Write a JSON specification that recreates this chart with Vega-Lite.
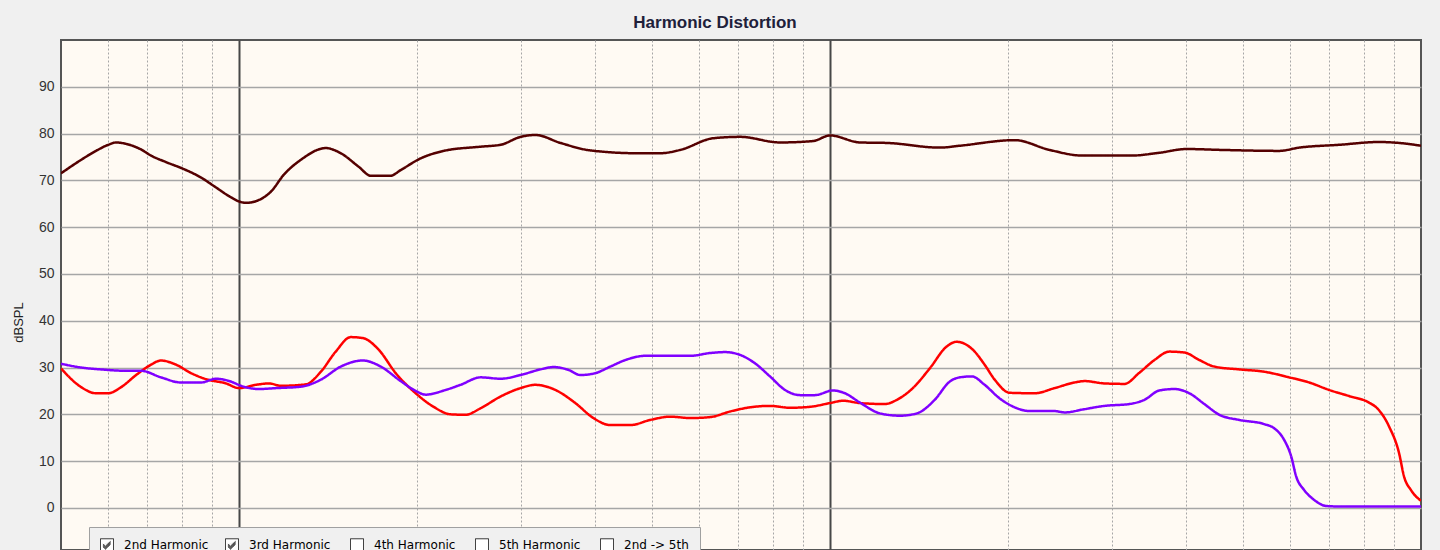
{
  "$schema": "https://vega.github.io/schema/vega-lite/v6.json",
  "width": 1360,
  "height": 510,
  "autosize": {"type": "none"},
  "padding": {"left": 61, "top": 40, "right": 19, "bottom": 0},
  "background": "#f0f0f0",
  "title": {
    "text": "Harmonic Distortion",
    "font": "Liberation Sans",
    "fontSize": 17,
    "fontWeight": "bold",
    "color": "#20203a",
    "anchor": "middle",
    "dx": -26,
    "dy": 17,
    "offset": 12,
    "baseline": "alphabetic"
  },
  "config": {
    "view": {"fill": "#fffaf3", "stroke": "#555555", "strokeWidth": 2}
  },
  "data": {
    "values": [
      {"series": "Fundamental", "freq": 50, "spl": 71.5},
      {"series": "Fundamental", "freq": 54.1, "spl": 74.4},
      {"series": "Fundamental", "freq": 57.3, "spl": 76.3},
      {"series": "Fundamental", "freq": 60.1, "spl": 77.6},
      {"series": "Fundamental", "freq": 62.0, "spl": 78.1},
      {"series": "Fundamental", "freq": 64.4, "spl": 77.8},
      {"series": "Fundamental", "freq": 68.3, "spl": 76.6},
      {"series": "Fundamental", "freq": 71.0, "spl": 75.3},
      {"series": "Fundamental", "freq": 75.3, "spl": 73.9},
      {"series": "Fundamental", "freq": 80.7, "spl": 72.4},
      {"series": "Fundamental", "freq": 86.3, "spl": 70.6},
      {"series": "Fundamental", "freq": 90.7, "spl": 68.8},
      {"series": "Fundamental", "freq": 96.9, "spl": 66.4},
      {"series": "Fundamental", "freq": 100, "spl": 65.5},
      {"series": "Fundamental", "freq": 102.8, "spl": 65.2},
      {"series": "Fundamental", "freq": 108.9, "spl": 66.0},
      {"series": "Fundamental", "freq": 113.3, "spl": 67.6},
      {"series": "Fundamental", "freq": 119.1, "spl": 71.2},
      {"series": "Fundamental", "freq": 127.3, "spl": 74.4},
      {"series": "Fundamental", "freq": 140.3, "spl": 76.9},
      {"series": "Fundamental", "freq": 148.7, "spl": 75.8},
      {"series": "Fundamental", "freq": 159.5, "spl": 72.9},
      {"series": "Fundamental", "freq": 167.1, "spl": 71.0},
      {"series": "Fundamental", "freq": 180.6, "spl": 71.0},
      {"series": "Fundamental", "freq": 187.8, "spl": 72.2},
      {"series": "Fundamental", "freq": 203.0, "spl": 74.7},
      {"series": "Fundamental", "freq": 222.0, "spl": 76.3},
      {"series": "Fundamental", "freq": 256.4, "spl": 77.2},
      {"series": "Fundamental", "freq": 277.1, "spl": 77.6},
      {"series": "Fundamental", "freq": 299.6, "spl": 79.3},
      {"series": "Fundamental", "freq": 317.5, "spl": 79.7},
      {"series": "Fundamental", "freq": 349.9, "spl": 78.0},
      {"series": "Fundamental", "freq": 393.3, "spl": 76.4},
      {"series": "Fundamental", "freq": 472.1, "spl": 75.8},
      {"series": "Fundamental", "freq": 516.3, "spl": 75.8},
      {"series": "Fundamental", "freq": 558.0, "spl": 76.5},
      {"series": "Fundamental", "freq": 634.5, "spl": 79.0},
      {"series": "Fundamental", "freq": 704.7, "spl": 79.3},
      {"series": "Fundamental", "freq": 823.3, "spl": 78.1},
      {"series": "Fundamental", "freq": 936.1, "spl": 78.4},
      {"series": "Fundamental", "freq": 1000, "spl": 79.6},
      {"series": "Fundamental", "freq": 1124, "spl": 78.1},
      {"series": "Fundamental", "freq": 1248, "spl": 78.0},
      {"series": "Fundamental", "freq": 1534, "spl": 77.0},
      {"series": "Fundamental", "freq": 1658, "spl": 77.4},
      {"series": "Fundamental", "freq": 2053, "spl": 78.6},
      {"series": "Fundamental", "freq": 2353, "spl": 76.5},
      {"series": "Fundamental", "freq": 2676, "spl": 75.3},
      {"series": "Fundamental", "freq": 3237, "spl": 75.3},
      {"series": "Fundamental", "freq": 3609, "spl": 75.9},
      {"series": "Fundamental", "freq": 4009, "spl": 76.7},
      {"series": "Fundamental", "freq": 4612, "spl": 76.5},
      {"series": "Fundamental", "freq": 5756, "spl": 76.3},
      {"series": "Fundamental", "freq": 6221, "spl": 77.0},
      {"series": "Fundamental", "freq": 7269, "spl": 77.6},
      {"series": "Fundamental", "freq": 8494, "spl": 78.2},
      {"series": "Fundamental", "freq": 9181, "spl": 78.0},
      {"series": "Fundamental", "freq": 10000, "spl": 77.4},

      {"series": "2nd Harmonic", "freq": 50, "spl": 29.8},
      {"series": "2nd Harmonic", "freq": 54.1, "spl": 25.8},
      {"series": "2nd Harmonic", "freq": 57.3, "spl": 24.5},
      {"series": "2nd Harmonic", "freq": 60.1, "spl": 24.5},
      {"series": "2nd Harmonic", "freq": 63.2, "spl": 25.8},
      {"series": "2nd Harmonic", "freq": 67.0, "spl": 28.4},
      {"series": "2nd Harmonic", "freq": 71.0, "spl": 30.6},
      {"series": "2nd Harmonic", "freq": 73.8, "spl": 31.5},
      {"series": "2nd Harmonic", "freq": 78.3, "spl": 30.6},
      {"series": "2nd Harmonic", "freq": 83.0, "spl": 28.8},
      {"series": "2nd Harmonic", "freq": 88.0, "spl": 27.5},
      {"series": "2nd Harmonic", "freq": 95.1, "spl": 26.6},
      {"series": "2nd Harmonic", "freq": 100, "spl": 25.6},
      {"series": "2nd Harmonic", "freq": 106.8, "spl": 26.3},
      {"series": "2nd Harmonic", "freq": 112.4, "spl": 26.6},
      {"series": "2nd Harmonic", "freq": 117.8, "spl": 26.1},
      {"series": "2nd Harmonic", "freq": 129.8, "spl": 26.4},
      {"series": "2nd Harmonic", "freq": 137.6, "spl": 29.1},
      {"series": "2nd Harmonic", "freq": 145.8, "spl": 33.4},
      {"series": "2nd Harmonic", "freq": 154.6, "spl": 36.5},
      {"series": "2nd Harmonic", "freq": 162.0, "spl": 36.3},
      {"series": "2nd Harmonic", "freq": 172.4, "spl": 33.8},
      {"series": "2nd Harmonic", "freq": 184.2, "spl": 28.8},
      {"series": "2nd Harmonic", "freq": 199.1, "spl": 24.5},
      {"series": "2nd Harmonic", "freq": 213.5, "spl": 21.6},
      {"series": "2nd Harmonic", "freq": 228.1, "spl": 20.0},
      {"series": "2nd Harmonic", "freq": 241.8, "spl": 19.9},
      {"series": "2nd Harmonic", "freq": 256.4, "spl": 21.3},
      {"series": "2nd Harmonic", "freq": 277.1, "spl": 23.8},
      {"series": "2nd Harmonic", "freq": 299.6, "spl": 25.6},
      {"series": "2nd Harmonic", "freq": 317.5, "spl": 26.3},
      {"series": "2nd Harmonic", "freq": 343.2, "spl": 25.2},
      {"series": "2nd Harmonic", "freq": 370.9, "spl": 22.4},
      {"series": "2nd Harmonic", "freq": 397.9, "spl": 19.2},
      {"series": "2nd Harmonic", "freq": 425.0, "spl": 17.7},
      {"series": "2nd Harmonic", "freq": 459.5, "spl": 17.7},
      {"series": "2nd Harmonic", "freq": 496.6, "spl": 18.8},
      {"series": "2nd Harmonic", "freq": 536.7, "spl": 19.5},
      {"series": "2nd Harmonic", "freq": 580.2, "spl": 19.2},
      {"series": "2nd Harmonic", "freq": 627.0, "spl": 19.4},
      {"series": "2nd Harmonic", "freq": 677.7, "spl": 20.6},
      {"series": "2nd Harmonic", "freq": 732.4, "spl": 21.5},
      {"series": "2nd Harmonic", "freq": 791.6, "spl": 21.8},
      {"series": "2nd Harmonic", "freq": 855.6, "spl": 21.4},
      {"series": "2nd Harmonic", "freq": 924.7, "spl": 21.6},
      {"series": "2nd Harmonic", "freq": 1000, "spl": 22.4},
      {"series": "2nd Harmonic", "freq": 1052, "spl": 22.9},
      {"series": "2nd Harmonic", "freq": 1124, "spl": 22.4},
      {"series": "2nd Harmonic", "freq": 1239, "spl": 22.2},
      {"series": "2nd Harmonic", "freq": 1298, "spl": 23.1},
      {"series": "2nd Harmonic", "freq": 1381, "spl": 25.6},
      {"series": "2nd Harmonic", "freq": 1475, "spl": 29.8},
      {"series": "2nd Harmonic", "freq": 1576, "spl": 34.5},
      {"series": "2nd Harmonic", "freq": 1639, "spl": 35.5},
      {"series": "2nd Harmonic", "freq": 1745, "spl": 33.8},
      {"series": "2nd Harmonic", "freq": 1827, "spl": 30.6},
      {"series": "2nd Harmonic", "freq": 1900, "spl": 27.4},
      {"series": "2nd Harmonic", "freq": 2014, "spl": 24.6},
      {"series": "2nd Harmonic", "freq": 2220, "spl": 24.5},
      {"series": "2nd Harmonic", "freq": 2399, "spl": 25.6},
      {"series": "2nd Harmonic", "freq": 2593, "spl": 26.8},
      {"series": "2nd Harmonic", "freq": 2696, "spl": 27.1},
      {"series": "2nd Harmonic", "freq": 2914, "spl": 26.6},
      {"series": "2nd Harmonic", "freq": 3150, "spl": 26.5},
      {"series": "2nd Harmonic", "freq": 3339, "spl": 28.9},
      {"series": "2nd Harmonic", "freq": 3540, "spl": 31.6},
      {"series": "2nd Harmonic", "freq": 3752, "spl": 33.4},
      {"series": "2nd Harmonic", "freq": 3979, "spl": 33.2},
      {"series": "2nd Harmonic", "freq": 4217, "spl": 31.6},
      {"series": "2nd Harmonic", "freq": 4470, "spl": 30.2},
      {"series": "2nd Harmonic", "freq": 4926, "spl": 29.6},
      {"series": "2nd Harmonic", "freq": 5431, "spl": 29.1},
      {"series": "2nd Harmonic", "freq": 5984, "spl": 27.9},
      {"series": "2nd Harmonic", "freq": 6470, "spl": 26.8},
      {"series": "2nd Harmonic", "freq": 6993, "spl": 25.2},
      {"series": "2nd Harmonic", "freq": 7557, "spl": 23.9},
      {"series": "2nd Harmonic", "freq": 8170, "spl": 22.5},
      {"series": "2nd Harmonic", "freq": 8430, "spl": 21.3},
      {"series": "2nd Harmonic", "freq": 8830, "spl": 17.4},
      {"series": "2nd Harmonic", "freq": 9181, "spl": 11.7},
      {"series": "2nd Harmonic", "freq": 9361, "spl": 6.7},
      {"series": "2nd Harmonic", "freq": 9619, "spl": 3.8},
      {"series": "2nd Harmonic", "freq": 10000, "spl": 1.5},

      {"series": "3rd Harmonic", "freq": 50, "spl": 30.8},
      {"series": "3rd Harmonic", "freq": 54.1, "spl": 30.0},
      {"series": "3rd Harmonic", "freq": 58.4, "spl": 29.6},
      {"series": "3rd Harmonic", "freq": 64.4, "spl": 29.3},
      {"series": "3rd Harmonic", "freq": 68.3, "spl": 29.3},
      {"series": "3rd Harmonic", "freq": 73.8, "spl": 27.9},
      {"series": "3rd Harmonic", "freq": 79.8, "spl": 26.8},
      {"series": "3rd Harmonic", "freq": 86.3, "spl": 26.8},
      {"series": "3rd Harmonic", "freq": 91.4, "spl": 27.6},
      {"series": "3rd Harmonic", "freq": 96.9, "spl": 27.0},
      {"series": "3rd Harmonic", "freq": 100.8, "spl": 26.1},
      {"series": "3rd Harmonic", "freq": 108.1, "spl": 25.4},
      {"series": "3rd Harmonic", "freq": 115.5, "spl": 25.6},
      {"series": "3rd Harmonic", "freq": 127.3, "spl": 25.9},
      {"series": "3rd Harmonic", "freq": 137.6, "spl": 27.4},
      {"series": "3rd Harmonic", "freq": 148.7, "spl": 30.2},
      {"series": "3rd Harmonic", "freq": 162.0, "spl": 31.5},
      {"series": "3rd Harmonic", "freq": 173.8, "spl": 30.2},
      {"series": "3rd Harmonic", "freq": 187.8, "spl": 27.1},
      {"series": "3rd Harmonic", "freq": 199.1, "spl": 25.0},
      {"series": "3rd Harmonic", "freq": 207.0, "spl": 24.2},
      {"series": "3rd Harmonic", "freq": 223.7, "spl": 25.2},
      {"series": "3rd Harmonic", "freq": 237.1, "spl": 26.3},
      {"series": "3rd Harmonic", "freq": 256.4, "spl": 27.9},
      {"series": "3rd Harmonic", "freq": 277.1, "spl": 27.6},
      {"series": "3rd Harmonic", "freq": 299.6, "spl": 28.4},
      {"series": "3rd Harmonic", "freq": 323.7, "spl": 29.6},
      {"series": "3rd Harmonic", "freq": 340.5, "spl": 30.1},
      {"series": "3rd Harmonic", "freq": 360.9, "spl": 29.5},
      {"series": "3rd Harmonic", "freq": 378.2, "spl": 28.4},
      {"series": "3rd Harmonic", "freq": 400.9, "spl": 28.8},
      {"series": "3rd Harmonic", "freq": 425.0, "spl": 30.2},
      {"series": "3rd Harmonic", "freq": 450.6, "spl": 31.6},
      {"series": "3rd Harmonic", "freq": 487.0, "spl": 32.5},
      {"series": "3rd Harmonic", "freq": 536.7, "spl": 32.5},
      {"series": "3rd Harmonic", "freq": 580.2, "spl": 32.5},
      {"series": "3rd Harmonic", "freq": 627.0, "spl": 33.1},
      {"series": "3rd Harmonic", "freq": 664.6, "spl": 33.3},
      {"series": "3rd Harmonic", "freq": 704.7, "spl": 32.7},
      {"series": "3rd Harmonic", "freq": 746.7, "spl": 30.9},
      {"series": "3rd Harmonic", "freq": 791.6, "spl": 28.1},
      {"series": "3rd Harmonic", "freq": 839.5, "spl": 25.2},
      {"series": "3rd Harmonic", "freq": 889.9, "spl": 24.1},
      {"series": "3rd Harmonic", "freq": 943.3, "spl": 24.1},
      {"series": "3rd Harmonic", "freq": 1012, "spl": 25.1},
      {"series": "3rd Harmonic", "freq": 1060, "spl": 24.5},
      {"series": "3rd Harmonic", "freq": 1124, "spl": 22.5},
      {"series": "3rd Harmonic", "freq": 1215, "spl": 20.2},
      {"series": "3rd Harmonic", "freq": 1313, "spl": 19.7},
      {"series": "3rd Harmonic", "freq": 1403, "spl": 20.2},
      {"series": "3rd Harmonic", "freq": 1504, "spl": 23.1},
      {"series": "3rd Harmonic", "freq": 1595, "spl": 27.0},
      {"series": "3rd Harmonic", "freq": 1658, "spl": 27.9},
      {"series": "3rd Harmonic", "freq": 1738, "spl": 28.1},
      {"series": "3rd Harmonic", "freq": 1827, "spl": 26.3},
      {"series": "3rd Harmonic", "freq": 1937, "spl": 23.4},
      {"series": "3rd Harmonic", "freq": 2053, "spl": 21.5},
      {"series": "3rd Harmonic", "freq": 2177, "spl": 20.7},
      {"series": "3rd Harmonic", "freq": 2399, "spl": 20.7},
      {"series": "3rd Harmonic", "freq": 2494, "spl": 20.4},
      {"series": "3rd Harmonic", "freq": 2696, "spl": 21.1},
      {"series": "3rd Harmonic", "freq": 2914, "spl": 21.8},
      {"series": "3rd Harmonic", "freq": 3212, "spl": 22.2},
      {"series": "3rd Harmonic", "freq": 3405, "spl": 23.1},
      {"series": "3rd Harmonic", "freq": 3609, "spl": 25.1},
      {"series": "3rd Harmonic", "freq": 3825, "spl": 25.4},
      {"series": "3rd Harmonic", "freq": 4056, "spl": 24.5},
      {"series": "3rd Harmonic", "freq": 4299, "spl": 22.2},
      {"series": "3rd Harmonic", "freq": 4558, "spl": 19.9},
      {"series": "3rd Harmonic", "freq": 4926, "spl": 18.8},
      {"series": "3rd Harmonic", "freq": 5431, "spl": 17.9},
      {"series": "3rd Harmonic", "freq": 5646, "spl": 17.0},
      {"series": "3rd Harmonic", "freq": 5870, "spl": 14.5},
      {"series": "3rd Harmonic", "freq": 6031, "spl": 11.0},
      {"series": "3rd Harmonic", "freq": 6150, "spl": 6.7},
      {"series": "3rd Harmonic", "freq": 6345, "spl": 3.8},
      {"series": "3rd Harmonic", "freq": 6597, "spl": 1.7},
      {"series": "3rd Harmonic", "freq": 6913, "spl": 0.4},
      {"series": "3rd Harmonic", "freq": 7269, "spl": 0.3},
      {"series": "3rd Harmonic", "freq": 10000, "spl": 0.3}
    ]
  },
  "mark": {"type": "line", "interpolate": "monotone", "strokeWidth": 2.5, "clip": true},
  "encoding": {
    "x": {
      "field": "freq",
      "type": "quantitative",
      "scale": {"type": "log", "domain": [50, 10000], "nice": false},
      "axis": {
        "title": null,
        "orient": "bottom",
        "labels": false,
        "ticks": false,
        "domain": false,
        "grid": true,
        "values": [60, 70, 80, 90, 100, 200, 300, 400, 500, 600, 700, 800, 900, 1000, 2000, 3000, 4000, 5000, 6000, 7000, 8000, 9000],
        "gridColor": {"condition": {"test": "datum.value == 100 || datum.value == 1000", "value": "#474747"}, "value": "#a6a6a6"},
        "gridDash": {"condition": {"test": "datum.value == 100 || datum.value == 1000", "value": []}, "value": [2, 2]},
        "gridWidth": {"condition": {"test": "datum.value == 100 || datum.value == 1000", "value": 2}, "value": 1}
      }
    },
    "y": {
      "field": "spl",
      "type": "quantitative",
      "scale": {"domain": [-9, 100], "nice": false, "zero": false},
      "axis": {
        "title": "dBSPL",
        "titleFont": "Liberation Sans",
        "titleFontSize": 13,
        "titleFontWeight": "normal",
        "titleColor": "#222222",
        "titleX": -43,
        "titleY": 282,
        "titleAlign": "center",
        "titleBaseline": "middle",
        "titleAngle": -90,
        "values": [-10, 0, 10, 20, 30, 40, 50, 60, 70, 80, 90],
        "labelFont": "Liberation Sans Narrow, Liberation Sans",
        "labelFontSize": 14,
        "labelColor": "#333333",
        "labelPadding": 7,
        "ticks": false,
        "domain": false,
        "grid": true,
        "gridColor": "#a6a6a6",
        "gridWidth": 1.5
      }
    },
    "color": {
      "field": "series",
      "type": "nominal",
      "scale": {
        "domain": ["Fundamental", "2nd Harmonic", "3rd Harmonic", "4th Harmonic", "5th Harmonic", "2nd -> 5th"],
        "range": ["#550000", "#ff0000", "#8000ff", "#008000", "#0000ff", "#808080"]
      },
      "legend": null
    },
    "strokeDash": {
      "field": "series",
      "type": "nominal",
      "scale": {
        "domain": ["2nd Harmonic", "3rd Harmonic", "4th Harmonic", "5th Harmonic", "2nd -> 5th", "Fundamental"],
        "range": [[1, 0], [1, 0], [1, 0], [1, 0], [1, 0], [1, 0]]
      },
      "legend": {
        "values": ["2nd Harmonic", "3rd Harmonic", "4th Harmonic", "5th Harmonic", "2nd -> 5th"],
        "title": null,
        "orient": "none",
        "legendX": 28,
        "legendY": 487,
        "direction": "horizontal",
        "columns": 5,
        "gridAlign": "all",
        "columnPadding": 14,
        "padding": 11,
        "fillColor": "#f0f0f0",
        "strokeColor": "#a0a0a0",
        "labelFont": "DejaVu Sans",
        "labelFontSize": 12,
        "labelColor": "#000000",
        "labelOffset": 10,
        "symbolSize": 169,
        "symbolStrokeWidth": 1,
        "symbolFillColor": "#ffffff",
        "symbolStrokeColor": "#222222",
        "encode": {
          "symbols": {
            "update": {
              "shape": [
                {
                  "test": "datum.value === '2nd Harmonic' || datum.value === '3rd Harmonic'",
                  "value": "M-1,-1H1V1H-1Z M-0.6,-0.2L-0.25,0.15L0.55,-0.6 M-0.6,-0.05L-0.25,0.3L0.55,-0.45 M-0.6,0.1L-0.25,0.45L0.55,-0.3 M-0.6,0.25L-0.25,0.6L0.55,-0.15"
                },
                {"value": "M-1,-1H1V1H-1Z"}
              ],
              "fill": {"value": "#ffffff"},
              "stroke": {"value": "#1a1a1a"},
              "strokeWidth": {"value": 1},
              "opacity": {"value": 1}
            }
          }
        }
      }
    }
  }
}
